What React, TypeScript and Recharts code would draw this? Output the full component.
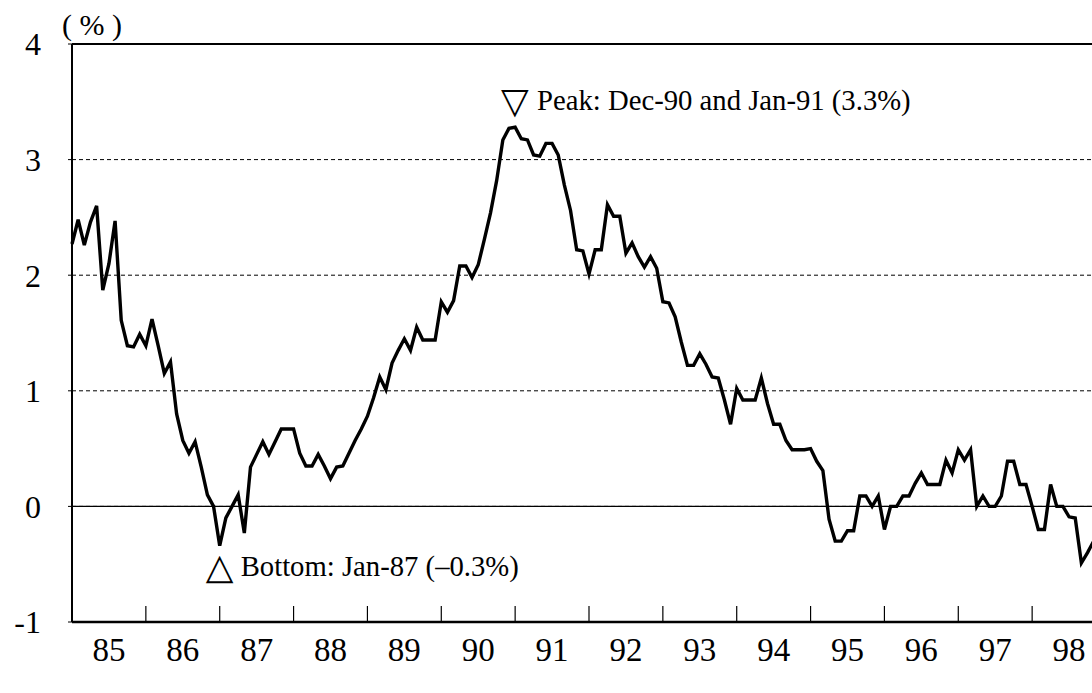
import React from 'react';
import {
  LineChart,
  Line,
  XAxis,
  YAxis,
  CartesianGrid,
  ReferenceLine,
  ReferenceDot,
} from 'recharts';

// monthly values from Jan-85, in %
const rates = [
  2.27, 2.48, 2.26, 2.46, 2.6, 1.87, 2.1, 2.47, 1.61, 1.39, 1.38, 1.49,
  1.39, 1.62, 1.39, 1.15, 1.25, 0.8, 0.57, 0.46, 0.56, 0.34, 0.1, 0.0,
  -0.34, -0.1, 0.0, 0.1, -0.23, 0.34, 0.45, 0.56, 0.45, 0.56, 0.67, 0.67,
  0.67, 0.46, 0.35, 0.35, 0.45, 0.35, 0.24, 0.34, 0.35, 0.46, 0.57, 0.67,
  0.78, 0.94, 1.12, 1.01, 1.24, 1.35, 1.45, 1.35, 1.55, 1.44, 1.44, 1.44,
  1.77, 1.68, 1.78, 2.08, 2.08, 1.98, 2.09, 2.31, 2.54, 2.82, 3.17, 3.27,
  3.28, 3.18, 3.17, 3.04, 3.03, 3.14, 3.14, 3.04, 2.78, 2.56, 2.22, 2.21,
  2.01, 2.22, 2.22, 2.61, 2.51, 2.51, 2.19, 2.28, 2.16, 2.07, 2.16, 2.06,
  1.77, 1.76, 1.64, 1.42, 1.22, 1.22, 1.32, 1.23, 1.12, 1.11, 0.92, 0.71,
  1.02, 0.92, 0.92, 0.92, 1.11, 0.89, 0.71, 0.71, 0.57, 0.49, 0.49, 0.49,
  0.5, 0.39, 0.31, -0.11, -0.3, -0.3, -0.21, -0.21, 0.09, 0.09, 0.0, 0.09,
  -0.2, 0.0, 0.0, 0.09, 0.09, 0.2, 0.29, 0.19, 0.19, 0.19, 0.4, 0.29,
  0.49, 0.4, 0.49, 0.0, 0.09, 0.0, 0.0, 0.09, 0.39, 0.39, 0.19, 0.19,
  0.0, -0.2, -0.2, 0.19, 0.0, 0.0, -0.09, -0.1, -0.49, -0.4, -0.3,
];

const yearLabels = ['85', '86', '87', '88', '89', '90', '91', '92', '93', '94', '95', '96', '97', '98'];
const yTicks = [-1, 0, 1, 2, 3, 4];

const peak = { month: 71.5, value: 3.28, text: 'Peak: Dec-90 and Jan-91 (3.3%)' };
const bottom = { month: 24, value: -0.34, text: 'Bottom: Jan-87 (\u20130.3%)' };

const data = rates.map((v, i) => ({ m: i, v }));
const yearStarts = yearLabels.map((_, k) => k * 12).concat(yearLabels.length * 12);
const yearMids = yearLabels.map((_, k) => k * 12 + 6);

const serif = '"Liberation Serif", "Times New Roman", serif';
const tri = '"DejaVu Sans", sans-serif';

const PeakNote = (props: any) => {
  const { x, y } = props.viewBox;
  return (
    <g>
      <text x={x - 11} y={y - 14} fontFamily={tri} fontSize={36} fill="#000">
        {'\u25BD'}
      </text>
      <text x={x + 25} y={y - 17} fontFamily={serif} fontSize={28.7} fill="#000">
        {peak.text}
      </text>
    </g>
  );
};

const BottomNote = (props: any) => {
  const { x, y } = props.viewBox;
  return (
    <g>
      <text x={x - 14} y={y + 33} fontFamily={tri} fontSize={36} fill="#000">
        {'\u25B3'}
      </text>
      <text x={x + 21} y={y + 30} fontFamily={serif} fontSize={28.7} fill="#000">
        {bottom.text}
      </text>
    </g>
  );
};

const NoLabel = () => <g />;

export default function App() {
  return (
    <div
      style={{
        position: 'absolute',
        left: 0,
        top: 0,
        width: 1092,
        height: 693,
        overflow: 'hidden',
        background: '#fff',
      }}
    >
      <div
        style={{
          position: 'absolute',
          left: 62,
          top: 10,
          fontFamily: serif,
          fontSize: 30,
          lineHeight: '30px',
          whiteSpace: 'pre',
        }}
      >
        {'( % )'}
      </div>
      <LineChart
        width={1112}
        height={693}
        data={data}
        margin={{ top: 44, right: 6, bottom: 0, left: 0 }}
      >
        <CartesianGrid
          xAxisId="ticks"
          vertical={false}
          stroke="#000"
          strokeWidth={1}
          strokeDasharray="4 3"
        />
        <XAxis
          xAxisId="ticks"
          dataKey="m"
          type="number"
          domain={[0, 168]}
          ticks={yearStarts}
          interval={0}
          tick={NoLabel}
          tickSize={16}
          mirror
          height={20}
          axisLine={{ stroke: '#000', strokeWidth: 2.5 }}
          tickLine={{ stroke: '#000', strokeWidth: 1.2 }}
        />
        <XAxis
          xAxisId="years"
          dataKey="m"
          type="number"
          domain={[0, 168]}
          ticks={yearMids}
          interval={0}
          tickFormatter={(v: number) => yearLabels[(v - 6) / 12]}
          axisLine={false}
          tickLine={false}
          tickSize={0}
          tickMargin={16}
          height={71}
          tick={{ fill: '#000', fontSize: 33, fontFamily: serif }}
        />
        <YAxis
          type="number"
          domain={[-1, 4]}
          ticks={yTicks}
          interval={0}
          width={72}
          tickSize={4}
          tickMargin={27}
          axisLine={{ stroke: '#000', strokeWidth: 2 }}
          tickLine={{ stroke: '#000', strokeWidth: 1 }}
          tick={{ fill: '#000', fontSize: 32, fontFamily: serif }}
        />
        <ReferenceLine xAxisId="ticks" y={0} stroke="#000" strokeWidth={1.4} />
        <ReferenceLine xAxisId="ticks" y={4} stroke="#000" strokeWidth={2} />
        <Line
          xAxisId="ticks"
          type="linear"
          dataKey="v"
          stroke="#000"
          strokeWidth={3.4}
          dot={false}
          isAnimationActive={false}
        />
        <ReferenceDot
          xAxisId="ticks"
          x={peak.month}
          y={peak.value}
          r={0}
          fill="none"
          stroke="none"
          label={{ content: (p: any) => <PeakNote {...p} /> }}
        />
        <ReferenceDot
          xAxisId="ticks"
          x={bottom.month}
          y={bottom.value}
          r={0}
          fill="none"
          stroke="none"
          label={{ content: (p: any) => <BottomNote {...p} /> }}
        />
      </LineChart>
    </div>
  );
}
